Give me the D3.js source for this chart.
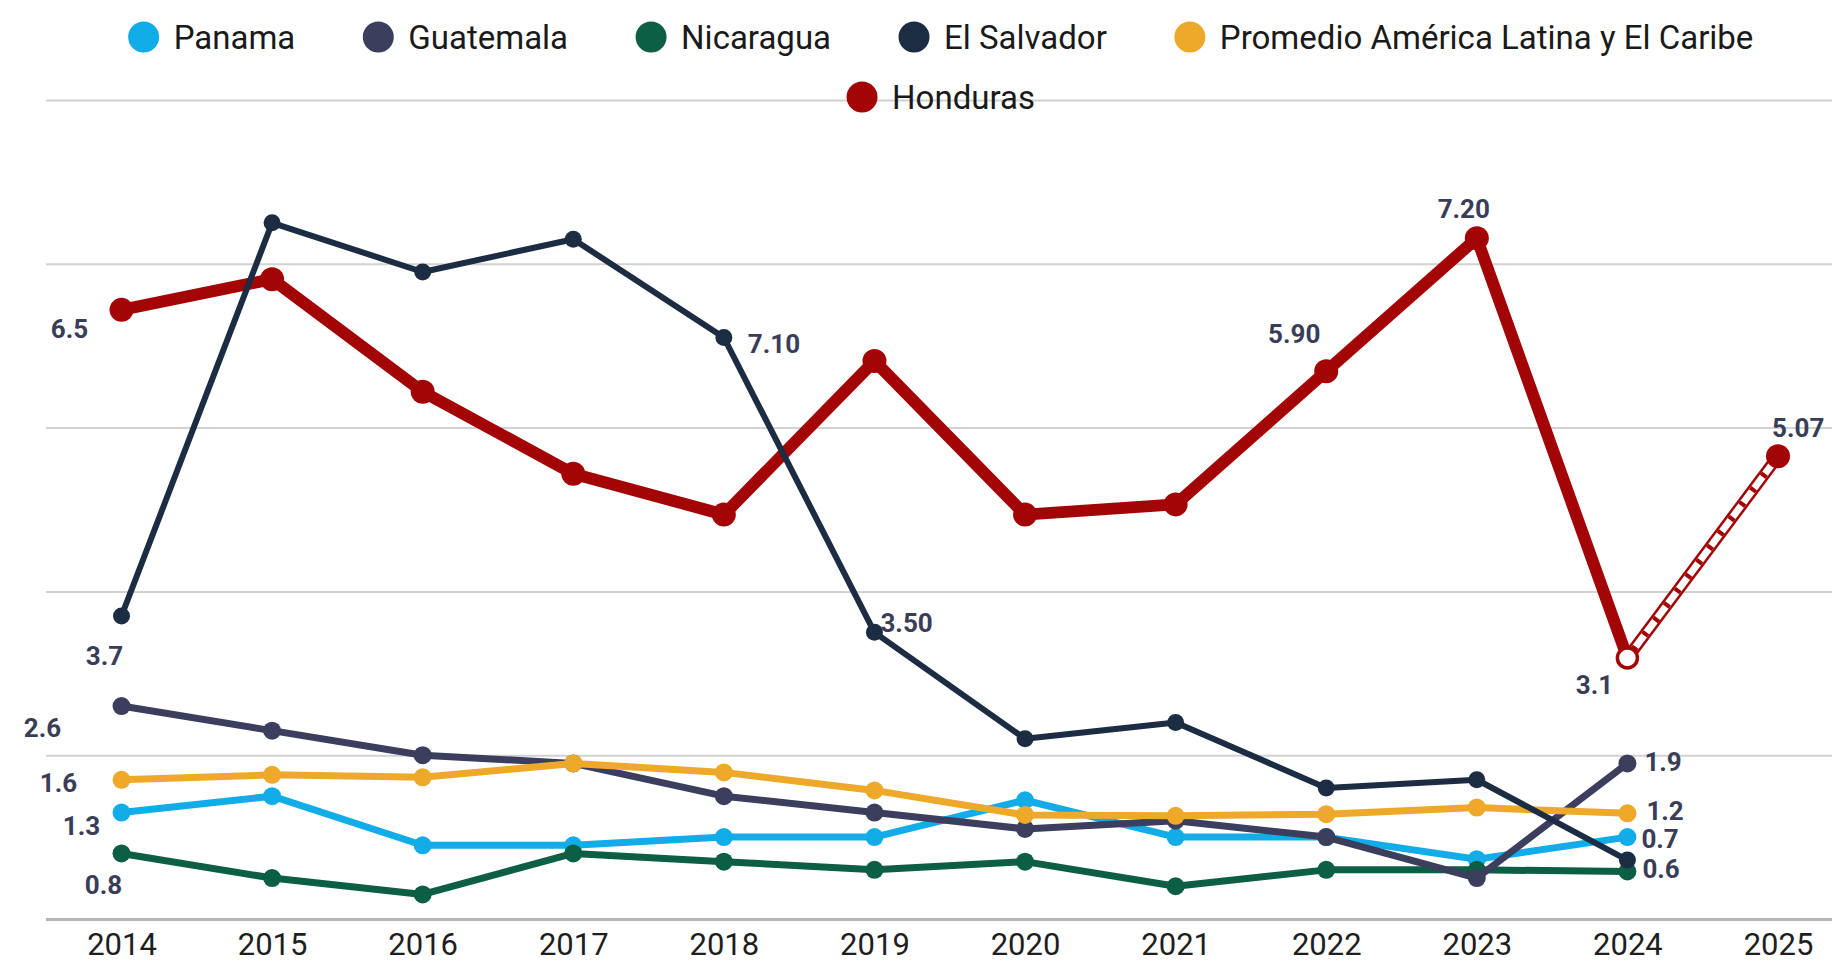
<!DOCTYPE html>
<meta charset="utf-8" />
<script src="https://d3js.org/d3.v7.min.js"></script>
<style>
  body { margin: 0; background: #fff; }
  svg { display: block; }
</style>
<div id="chart"></div>
<script>
  // data
  const years = [2014, 2015, 2016, 2017, 2018, 2019, 2020, 2021, 2022, 2023, 2024, 2025];
  const panama = [1.3, 1.5, 0.9, 0.9, 1.0, 1.0, 1.45, 1.0, 1.0, 0.73, 1.0];
  const guatemala = [2.6, 2.3, 2.0, 1.9, 1.5, 1.3, 1.1, 1.2, 1.0, 0.5, 1.9];
  const nicaragua = [0.8, 0.5, 0.3, 0.8, 0.7, 0.6, 0.7, 0.4, 0.6, 0.6, 0.58];
  const elSalvador = [3.7, 8.5, 7.9, 8.3, 7.1, 3.5, 2.2, 2.4, 1.6, 1.7, 0.72];
  const promedio = [1.7, 1.76, 1.73, 1.9, 1.79, 1.57, 1.27, 1.26, 1.28, 1.36, 1.29];
  // Honduras is on its own (secondary) scale; 2025 is a projection
  const honduras = [6.5, 6.8, 5.7, 4.9, 4.5, 6.0, 4.5, 4.6, 5.9, 7.2, 3.1, 5.07];
  const gridTicks = [0, 2, 4, 6, 8, 10];

  const legendNames = ['Panama', 'Guatemala', 'Nicaragua', 'El Salvador',
    'Promedio América Latina y El Caribe', 'Honduras'];

  // data labels: [series, year, text]
  const dataLabels = [
    ['Honduras', 2014, '6.5'], ['El Salvador', 2014, '3.7'], ['Guatemala', 2014, '2.6'],
    ['Promedio', 2014, '1.6'], ['Panama', 2014, '1.3'], ['Nicaragua', 2014, '0.8'],
    ['El Salvador', 2018, '7.10'], ['El Salvador', 2019, '3.50'],
    ['Honduras', 2022, '5.90'], ['Honduras', 2023, '7.20'], ['Honduras', 2024, '3.1'],
    ['Honduras', 2025, '5.07'], ['Guatemala', 2024, '1.9'], ['Promedio', 2024, '1.2'],
    ['Panama', 2024, '0.7'], ['Nicaragua', 2024, '0.6']
  ];

  const width = 1832, height = 962;
  const colors = {
    'Panama': '#12ade8', 'Guatemala': '#3b3e5c', 'Nicaragua': '#0c5e45',
    'El Salvador': '#1c2c43', 'Promedio': '#eea82a', 'Honduras': '#a30405'
  };

  const svg = d3.select('#chart').append('svg')
    .attr('width', width).attr('height', height);

  const x = d3.scalePoint().domain(years).range([121.5, 1778]);
  const y = d3.scaleLinear().domain([0, 10]).range([919, 100]);
  const yH = d3.scaleLinear().domain([0.55, 8.55]).range([919, 100]);

  // gridlines
  const grid = svg.append('g')
    .attr('transform', 'translate(46,0)')
    .call(d3.axisRight(y).tickValues(gridTicks).tickSize(width - 46).tickFormat(''));
  grid.select('.domain').remove();
  grid.selectAll('line')
    .attr('stroke', d => d === 0 ? '#b4b4b4' : '#d2d2d2')
    .attr('stroke-width', d => d === 0 ? 3 : 2);

  // x axis
  const xAxis = svg.append('g')
    .attr('transform', 'translate(0,919)')
    .call(d3.axisBottom(x).tickSize(0).tickPadding(14));
  xAxis.select('.domain').remove();
  xAxis.selectAll('text')
    .style('font-family', 'Roboto, sans-serif')
    .style('font-size', '31px')
    .attr('fill', '#1e1e1e');

  const series = [
    { name: 'Panama', values: panama, width: 7, r: 9 },
    { name: 'Nicaragua', values: nicaragua, width: 7, r: 9 },
    { name: 'Guatemala', values: guatemala, width: 7, r: 9 },
    { name: 'Promedio', values: promedio, width: 7, r: 9 },
    { name: 'El Salvador', values: elSalvador, width: 6, r: 8.5 }
  ];

  const lineL = d3.line().x((d, i) => x(years[i])).y(d => y(d));
  const lineH = d3.line().x(d => x(d.year)).y(d => yH(d.v));
  const hData = honduras.map((v, i) => ({ year: years[i], v: v }));
  const hSolid = hData.slice(0, 11);
  const hProj = hData.slice(10);

  // Honduras first (drawn underneath)
  const hg = svg.append('g');
  hg.append('path').datum(hSolid).attr('d', lineH)
    .attr('fill', 'none').attr('stroke', colors['Honduras'])
    .attr('stroke-width', 12).attr('stroke-linejoin', 'round');
  hg.append('path').datum(hProj).attr('d', lineH)
    .attr('fill', 'none').attr('stroke', colors['Honduras']).attr('stroke-width', 12);
  hg.append('path').datum(hProj).attr('d', lineH)
    .attr('fill', 'none').attr('stroke', '#fff').attr('stroke-width', 7);
  hg.append('path').datum(hProj).attr('d', lineH)
    .attr('fill', 'none').attr('stroke', colors['Honduras']).attr('stroke-width', 7)
    .attr('stroke-dasharray', '4,14').attr('stroke-dashoffset', -10);
  hg.selectAll('circle').data(hData).join('circle')
    .attr('cx', d => x(d.year)).attr('cy', d => yH(d.v))
    .attr('r', d => d.year === 2024 ? 10 : 12)
    .attr('fill', d => d.year === 2024 ? '#fff' : colors['Honduras'])
    .attr('stroke', colors['Honduras'])
    .attr('stroke-width', d => d.year === 2024 ? 3.5 : 0);

  series.forEach(s => {
    const g = svg.append('g');
    g.append('path').datum(s.values).attr('d', lineL)
      .attr('fill', 'none').attr('stroke', colors[s.name])
      .attr('stroke-width', s.width).attr('stroke-linejoin', 'round');
    g.selectAll('circle').data(s.values).join('circle')
      .attr('cx', (d, i) => x(years[i])).attr('cy', d => y(d))
      .attr('r', s.r).attr('fill', colors[s.name]);
  });

  // data labels
  const lookup = {
    'Panama': panama, 'Guatemala': guatemala, 'Nicaragua': nicaragua,
    'El Salvador': elSalvador, 'Promedio': promedio
  };
  // offsets of each label from its point: [dx, dy, anchor]
  const labelOffsets = [
    [-52, 28, 'middle'], [-17, 49, 'middle'], [-79, 31, 'middle'],
    [-63, 12, 'middle'], [-40, 22, 'middle'], [-18, 41, 'middle'],
    [24, 15, 'start'], [6, 0, 'start'],
    [-32, -28, 'middle'], [-13, -20, 'middle'], [-33, 36, 'middle'],
    [-6, -19, 'start'], [17, 8, 'start'], [19, 7, 'start'],
    [14, 11, 'start'], [15, 7, 'start']
  ];
  svg.append('g').selectAll('text').data(dataLabels).join('text')
    .attr('x', (d, i) => x(d[1]) + labelOffsets[i][0])
    .attr('y', (d, i) => {
      const idx = years.indexOf(d[1]);
      const py = d[0] === 'Honduras' ? yH(honduras[idx]) : y(lookup[d[0]][idx]);
      return py + labelOffsets[i][1];
    })
    .attr('text-anchor', (d, i) => labelOffsets[i][2])
    .style('font-family', 'Roboto, sans-serif')
    .style('font-size', '26px')
    .style('font-weight', 700)
    .attr('fill', '#3a3d58')
    .text(d => d[2]);

  // legend, two centred rows
  const legendColor = ['Panama', 'Guatemala', 'Nicaragua', 'El Salvador', 'Promedio', 'Honduras'];
  const rows = [[0, 1, 2, 3, 4], [5]];
  const rowY = [37, 97];
  const cx = 941;
  const gap = 68;
  rows.forEach((row, ri) => {
    const g = svg.append('g');
    let pos = 0;
    row.forEach(k => {
      const item = g.append('g').attr('transform', `translate(${pos},${rowY[ri]})`);
      item.append('circle').attr('cx', 15).attr('cy', 0).attr('r', 15.5)
        .attr('fill', colors[legendColor[k]]);
      const t = item.append('text').attr('x', 45).attr('y', 0).attr('dy', '0.35em')
        .style('font-family', 'Roboto, sans-serif').style('font-size', '33px')
        .attr('fill', '#1a1a1a').text(legendNames[k]);
      pos += 45 + t.node().getComputedTextLength() + gap;
    });
    const w = pos - gap;
    g.attr('transform', `translate(${cx - w / 2},0)`);
  });
</script>
